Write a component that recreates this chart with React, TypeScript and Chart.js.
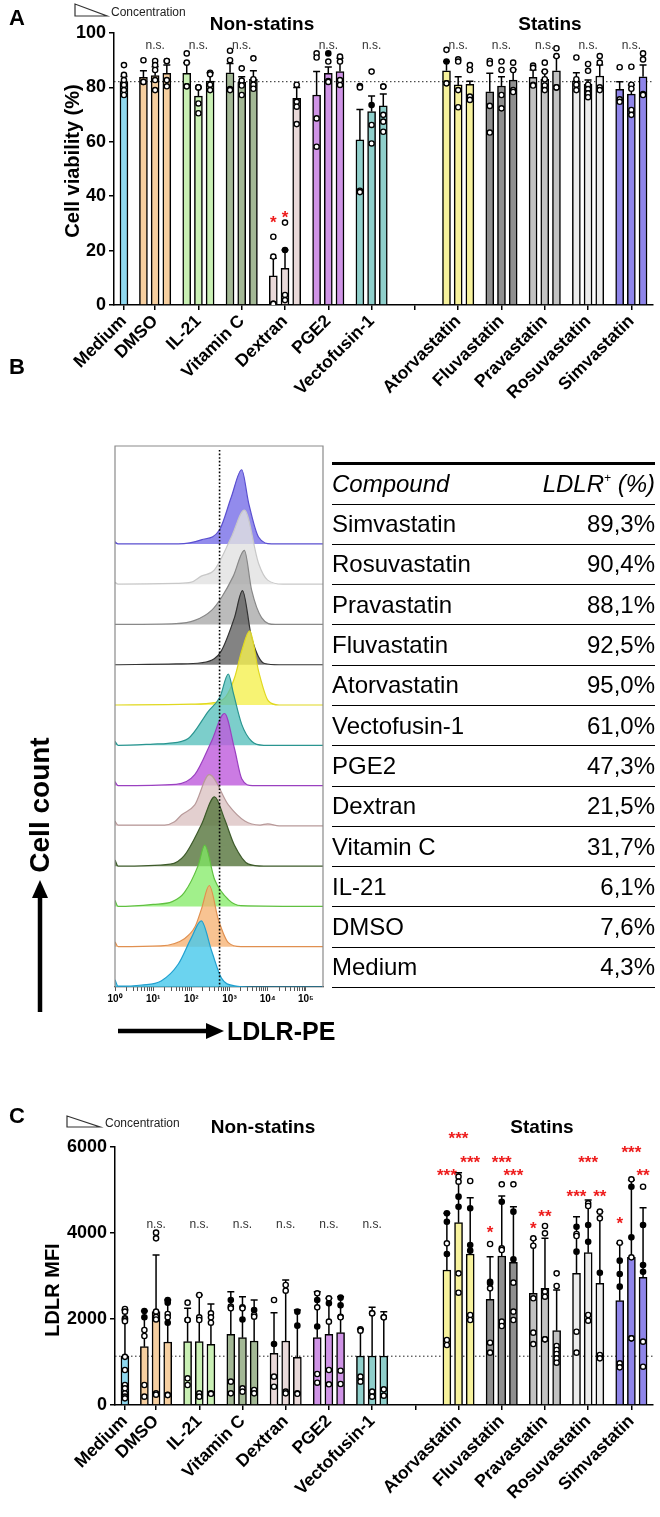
import React, { useEffect, useRef } from "react";
import { Chart, registerables } from "chart.js";

Chart.register(...registerables);
Chart.defaults.font.family = "'Liberation Sans', Arial, Helvetica, sans-serif";
Chart.defaults.color = "#000";

// ---------------- shared categories ----------------
const groupLabels = ["Medium", "DMSO", "IL-21", "Vitamin C", "Dextran", "PGE2", "Vectofusin-1", "", "Atorvastatin", "Fluvastatin", "Pravastatin", "Rosuvastatin", "Simvastatin"];
const groupSlots = [0.28, 1, 2, 3, 4, 5, 6, 7, 8, 9, 10, 11, 12];
const barsPerGroup = [1, 3, 3, 3, 3, 3, 3, 0, 3, 3, 3, 3, 3];
const groupColors = ["#8fd8ef", "#f6cfa0", "#c9f0b4", "#a3b895", "#e9d9d9", "#cf93e6", "#8fcfcb", "", "#f7f29c", "#8f8f8f", "#c2c2c2", "#ececec", "#8f85ea"];

// ---------------- Panel A: cell viability (%) ----------------
const viabilityMean = [
  82.1,
  83.7, 84.3, 85.2,
  85.2, 76.8, 82.3,
  85.4, 82.0, 83.0,
  10.7, 13.5, 76.0,
  77.2, 85.2, 85.8,
  60.7, 71.1, 73.2,
  86.1, 80.9, 81.1,
  78.4, 80.5, 82.7,
  83.7, 83.0, 86.1,
  82.4, 81.1, 84.2,
  79.3, 77.5, 83.9,
];
const viabilityErrTop = [
  84.0,
  86.1, 87.6, 88.2,
  89.1, 80.0, 85.4,
  88.8, 83.9, 86.1,
  17.2, 20.2, 80.0,
  85.8, 87.5, 90.7,
  71.9, 76.8, 77.6,
  89.5, 83.9, 82.3,
  85.2, 83.9, 86.6,
  86.4, 85.8, 91.3,
  85.4, 82.7, 88.2,
  82.1, 80.9, 88.2,
];
const viabilityOpen = [
  [88.2, 84.6, 82.7, 80.9, 79.0, 77.2],
  [90.0, 82.0, 82.0], [89.7, 88.2, 86.4, 82.7, 79.0], [89.7, 89.7, 82.7, 80.4],
  [92.5, 89.1, 80.4, 80.4], [80.0, 80.0, 74.1, 70.5], [85.4, 84.8, 81.0, 79.0],
  [93.5, 90.0, 79.4, 79.0], [87.0, 82.5, 80.7, 77.2], [90.7, 83.0, 81.0, 79.5],
  [25.1, 17.8, 0.4, 0.4], [30.3, 3.7, 1.8], [81.0, 74.7, 72.9, 66.5],
  [92.5, 91.0, 68.6, 58.2], [89.5, 82.3, 82.0], [91.3, 89.5, 82.7, 80.9],
  [80.5, 80.0, 42.0, 41.5], [85.8, 66.2, 59.4], [80.3, 80.3, 69.9, 67.4, 63.7],
  [93.8, 81.5, 81.5], [90.3, 89.5, 79.0, 72.7], [88.2, 86.4, 76.6, 75.4],
  [89.7, 88.8, 73.2, 63.4], [89.5, 86.4, 77.2, 72.3], [89.1, 86.4, 79.0, 78.3],
  [88.0, 87.2, 81.0, 80.7], [89.1, 85.8, 83.0, 80.7, 79.0], [94.4, 91.5, 80.0, 80.0],
  [91.0, 83.0, 81.0, 79.0], [88.6, 86.1, 81.0, 79.4, 77.8, 76.4], [91.5, 89.1, 80.0, 79.0],
  [87.4, 75.6, 74.7], [87.6, 81.0, 79.5, 71.7, 69.9], [92.5, 90.3, 77.6, 77.2],
];
const viabilityFilled = [
  [],
  [], [], [],
  [], [], [],
  [], [], [],
  [], [20.2], [],
  [], [92.5], [],
  [], [73.5], [],
  [89.5], [], [],
  [], [], [],
  [], [], [],
  [], [], [],
  [], [], [],
];
const viabilityNsGroups = [1, 2, 3, 5, 6, 8, 9, 10, 11, 12];
const viabilityStarBars = [10, 11];
const viabilityStarText = ["*", "*"];
const viabilityStarLevel = [31.5, 33.5];

// ---------------- Panel C: LDLR MFI ----------------
const mfiMean = [
  1135,
  1357, 2171, 1465,
  1473, 1473, 1411,
  1644, 1566, 1488,
  1202, 1488, 1109,
  1566, 1644, 1682,
  1140, 1140, 1140,
  3140, 4240, 3512,
  2458, 3465, 3318,
  2597, 2713, 1729,
  3062, 3543, 2830,
  2426, 3434, 2969,
];
const mfiErrTop = [
  2209,
  2186, 3488, 2442,
  2248, 2558, 2349,
  2636, 2519, 2442,
  2147, 2907, 2209,
  2636, 2481, 2519,
  1760, 2271, 2171,
  4460, 5402, 4822,
  3450, 4860, 4612,
  3853, 3876, 2674,
  4380, 4767, 4496,
  3760, 5233, 4589,
];
const mfiOpen = [
  [2233, 2171, 2016, 1990, 1950, 1120, 814, 465, 388, 271, 194, 155],
  [1744, 1605, 465, 194], [4008, 3876, 2171, 2050, 1990, 271, 240], [2116, 2039, 240, 230],
  [2380, 1977, 1977, 620, 465], [2558, 2039, 1977, 271, 194], [2132, 2039, 1914, 271, 260],
  [2287, 2248, 543, 271], [2271, 2248, 388, 310], [2093, 2054, 350, 271],
  [2442, 659, 426], [2791, 2658, 310, 271], [271, 260],
  [2597, 2271, 721, 519], [2481, 1938, 814, 481], [2054, 2039, 798, 488],
  [1760, 1729, 659, 543], [2132, 2132, 310, 194], [2039, 2039, 364, 217],
  [3760, 1512, 1395], [5310, 5194, 3062, 2612], [5209, 2093, 1977],
  [3744, 2713, 1449, 1217], [5132, 3644, 3605, 1938, 1837], [5132, 2845, 2171, 1977],
  [3876, 3705, 2481, 1682, 1418], [4163, 3992, 2636, 2519, 1527, 1527], [3062, 2767, 1372, 1279, 1186, 1085, 984],
  [3977, 3930, 1705, 1217], [4690, 4628, 2093, 1961], [4496, 4341, 1163, 1085],
  [3775, 969, 876], [5248, 3434, 1550, 1550], [5077, 1473, 891],
];
const mfiFilled = [
  [],
  [2186, 2039], [], [2442, 2380, 1914],
  [], [], [],
  [2442], [1990], [2209],
  [1418], [], [2171, 1845],
  [2442, 1827], [2364], [2496, 2318],
  [], [], [],
  [4457, 4263, 3512], [4845, 4612], [4574, 3721, 3589],
  [2868, 2830], [4728], [4496, 3388],
  [], [], [],
  [4147, 3566], [4186, 3798], [3077],
  [3357, 3047, 2752], [5077, 3899], [4186, 3256, 3100],
];
const mfiNsGroups = [1, 2, 3, 4, 5, 6];
const mfiStarBars = [19, 20, 21, 22, 23, 24, 25, 26, 28, 29, 30, 31, 32, 33];
const mfiStarText = ["***", "***", "***", "*", "***", "***", "*", "**", "***", "***", "**", "*", "***", "**"];
const mfiStarLevel = [5420, 6280, 5720, 4090, 5720, 5420, 4190, 4460, 4930, 5720, 4930, 4300, 5950, 5420];

// ---------------- Panel B: LDLR-PE histograms (log10 units, row heights) ----------------
const histMedium = [[0, 0.18], [0.08, 0.02], [0.7, 0.05], [1.21, 0.15], [1.66, 0.57], [2.0, 1.22], [2.26, 1.64], [2.53, 0.9], [2.79, 0.22], [3.13, 0.03], [3.6, 0], [5.45, 0]];
const histDMSO = [[0, 0.12], [0.08, 0], [1.2, 0.02], [1.82, 0.2], [2.1, 0.5], [2.26, 0.92], [2.47, 1.52], [2.71, 0.67], [2.97, 0.1], [3.3, 0], [5.45, 0]];
const histIL21 = [[0, 0.15], [0.08, 0], [1.0, 0.05], [1.5, 0.12], [1.82, 0.35], [2.18, 1.02], [2.35, 1.52], [2.61, 0.67], [2.97, 0.17], [3.3, 0.02], [5.45, 0]];
const histVitaminC = [[0, 0.15], [0.08, 0], [1.45, 0.05], [1.82, 0.27], [2.26, 1.02], [2.61, 1.72], [2.87, 1.17], [3.13, 0.52], [3.5, 0.05], [3.9, 0], [5.45, 0]];
const histDextran = [[0, 0.12], [0.08, 0.02], [1.3, 0.02], [1.56, 0.1], [1.74, 0.27], [2.09, 0.52], [2.47, 1.27], [2.97, 0.52], [3.4, 0.12], [3.8, 0.02], [4.0, 0.05], [4.3, 0], [5.45, 0]];
const histPGE2 = [[0, 0.1], [0.08, 0], [1.6, 0.03], [2.09, 0.27], [2.53, 1.1], [2.87, 1.79], [3.13, 0.92], [3.32, 0.17], [3.6, 0], [5.45, 0]];
const histVectofusin = [[0, 0.1], [0.08, 0], [1.0, 0.03], [1.39, 0.05], [1.92, 0.17], [2.45, 0.85], [2.75, 1.2], [2.97, 1.77], [3.1, 1.3], [3.32, 0.52], [3.58, 0.1], [3.9, 0], [5.45, 0]];
const histAtorvastatin = [[0, 0], [2.0, 0.02], [2.6, 0.06], [2.9, 0.2], [3.13, 0.67], [3.32, 1.34], [3.53, 1.84], [3.76, 0.85], [4.02, 0.1], [4.3, 0], [5.45, 0]];
const histFluvastatin = [[0, 0], [1.6, 0.02], [2.26, 0.05], [2.6, 0.15], [2.79, 0.35], [3.13, 1.17], [3.34, 1.84], [3.58, 0.67], [3.92, 0.03], [4.3, 0], [5.45, 0]];
const histPravastatin = [[0, 0], [1.6, 0.02], [2.09, 0.1], [2.53, 0.35], [2.79, 0.67], [3.1, 1.2], [3.39, 1.84], [3.58, 0.85], [3.84, 0.17], [4.2, 0], [5.45, 0]];
const histRosuvastatin = [[0, 0.05], [0.08, 0], [1.6, 0.02], [2.0, 0.05], [2.26, 0.2], [2.6, 0.35], [3.05, 1.17], [3.39, 1.84], [3.76, 0.52], [4.0, 0.1], [4.4, 0], [5.45, 0]];
const histSimvastatin = [[0, 0.05], [0.08, 0], [1.66, 0], [2.26, 0.1], [2.74, 0.35], [3.05, 1.17], [3.32, 1.84], [3.5, 1.02], [3.76, 0.17], [4.1, 0], [5.45, 0]];
const histCurves = [histMedium, histDMSO, histIL21, histVitaminC, histDextran, histPGE2, histVectofusin, histAtorvastatin, histFluvastatin, histPravastatin, histRosuvastatin, histSimvastatin];
const histFill = ["rgba(70,200,235,0.8)", "rgba(245,175,110,0.75)", "rgba(130,235,100,0.75)", "rgba(95,125,70,0.85)", "rgba(220,195,195,0.8)", "rgba(190,90,220,0.8)", "rgba(80,190,185,0.75)", "rgba(245,240,80,0.8)", "rgba(100,100,100,0.8)", "rgba(170,170,170,0.8)", "rgba(225,225,225,0.8)", "rgba(110,100,230,0.75)"];
const histLine = ["#20a0d0", "#e09050", "#60c040", "#3d5a2a", "#b89a9a", "#9a40c0", "#2a9590", "#e0d820", "#333333", "#888888", "#c8c8c8", "#5a4fd0"];
const histDecades = [0, 1, 2, 3, 4, 5];
const histMinorSteps = [2, 3, 4, 5, 6, 7, 8, 9];
const histGate = 2.74;
const tableCompounds = ["Medium", "DMSO", "IL-21", "Vitamin C", "Dextran", "PGE2", "Vectofusin-1", "Atorvastatin", "Fluvastatin", "Pravastatin", "Rosuvastatin", "Simvastatin"];
const tableLdlrPositive = ["4,3%", "7,6%", "6,1%", "31,7%", "21,5%", "47,3%", "61,0%", "95,0%", "92,5%", "88,1%", "90,4%", "89,3%"];

const BAR_STEP = 0.27;
const FONT = "'Liberation Sans', Arial, Helvetica, sans-serif";

function barPositions() {
  const xs: number[] = [];
  const colors: string[] = [];
  groupSlots.forEach((slot, g) => {
    const n = barsPerGroup[g];
    for (let k = 0; k < n; k++) {
      xs.push(n === 1 ? slot : slot + (k - (n - 1) / 2) * BAR_STEP);
      colors.push(groupColors[g]);
    }
  });
  return { xs, colors };
}

function makeBarChart(canvas: HTMLCanvasElement, p: any) {
  const { xs, colors } = barPositions();
  const openPts: any[] = [];
  const filledPts: any[] = [];
  p.open.forEach((arr: number[], i: number) => arr.forEach((v) => openPts.push({ x: xs[i], y: v })));
  p.filled.forEach((arr: number[], i: number) => arr.forEach((v) => filledPts.push({ x: xs[i], y: v })));

  const errPlugin = {
    id: "errbars",
    afterDatasetDraw(chart: any, args: any) {
      if (args.index !== 0) return;
      const { ctx } = chart;
      const y = chart.scales.y;
      ctx.save();
      ctx.strokeStyle = "#000";
      ctx.lineWidth = 1.5;
      args.meta.data.forEach((el: any, i: number) => {
        const top = y.getPixelForValue(p.errTops[i]);
        ctx.beginPath();
        ctx.moveTo(el.x, el.y);
        ctx.lineTo(el.x, top);
        ctx.moveTo(el.x - 3.5, top);
        ctx.lineTo(el.x + 3.5, top);
        ctx.stroke();
      });
      ctx.restore();
    },
  };

  const annotPlugin = {
    id: "annot",
    beforeDatasetsDraw(chart: any) {
      const { ctx, chartArea, scales } = chart;
      const ry = scales.y.getPixelForValue(p.refValue);
      ctx.save();
      ctx.setLineDash([1.5, 2.5]);
      ctx.strokeStyle = "#222";
      ctx.lineWidth = 1;
      ctx.beginPath();
      ctx.moveTo(chartArea.left, ry);
      ctx.lineTo(chartArea.right, ry);
      ctx.stroke();
      ctx.restore();
    },
    afterDraw(chart: any) {
      const { ctx, scales } = chart;
      const x = scales.x;
      const y = scales.y;
      const h = p.header;
      ctx.save();
      ctx.fillStyle = "#000";
      ctx.textBaseline = "alphabetic";
      ctx.font = `bold 22px ${FONT}`;
      ctx.textAlign = "left";
      ctx.fillText(h.letter, h.letterPos[0], h.letterPos[1]);
      ctx.strokeStyle = "#333";
      ctx.lineWidth = 1.2;
      ctx.beginPath();
      ctx.moveTo(h.tri[0][0], h.tri[0][1]);
      ctx.lineTo(h.tri[1][0], h.tri[1][1]);
      ctx.lineTo(h.tri[2][0], h.tri[2][1]);
      ctx.closePath();
      ctx.stroke();
      ctx.font = `12px ${FONT}`;
      ctx.fillStyle = "#222";
      ctx.fillText("Concentration", h.concPos[0], h.concPos[1]);
      ctx.fillStyle = "#000";
      ctx.font = `bold 19px ${FONT}`;
      ctx.textAlign = "center";
      ctx.fillText("Non-statins", h.nonPos[0], h.nonPos[1]);
      ctx.fillText("Statins", h.statPos[0], h.statPos[1]);
      ctx.save();
      ctx.translate(h.yTitlePos[0], h.yTitlePos[1]);
      ctx.rotate(-Math.PI / 2);
      ctx.font = `bold ${p.yTitleSize}px ${FONT}`;
      ctx.textAlign = "center";
      ctx.textBaseline = "middle";
      ctx.fillText(p.yTitle, 0, 0);
      ctx.restore();
      ctx.font = `12px ${FONT}`;
      ctx.fillStyle = "#333";
      ctx.textAlign = "center";
      ctx.textBaseline = "middle";
      const nsY = y.getPixelForValue(p.nsLevel);
      p.nsGroups.forEach((g: number) => ctx.fillText("n.s.", x.getPixelForValue(groupSlots[g]), nsY));
      ctx.font = `bold 17px ${FONT}`;
      ctx.fillStyle = "#ee1c1c";
      ctx.textBaseline = "middle";
      p.starBars.forEach((b: number, i: number) => {
        ctx.fillText(p.starText[i], x.getPixelForValue(xs[b]), y.getPixelForValue(p.starLevel[i]) + 4);
      });
      ctx.restore();
    },
  };

  return new Chart(canvas, {
    type: "bar",
    data: {
      datasets: [
        {
          type: "bar",
          data: p.means.map((v: number, i: number) => ({ x: xs[i], y: v })),
          backgroundColor: colors,
          borderColor: "#000",
          borderWidth: 1.5,
          barThickness: 8,
          order: 2,
        } as any,
        {
          type: "scatter",
          data: openPts,
          pointRadius: 2.6,
          pointBackgroundColor: "#fff",
          pointBorderColor: "#000",
          pointBorderWidth: 1.4,
          order: 1,
        } as any,
        {
          type: "scatter",
          data: filledPts,
          pointRadius: 2.6,
          pointBackgroundColor: "#000",
          pointBorderColor: "#000",
          pointBorderWidth: 1.4,
          order: 0,
        } as any,
      ],
    },
    options: {
      responsive: false,
      animation: false,
      events: [],
      layout: { padding: { top: p.padTop, right: 7, left: 0, bottom: 0 } },
      plugins: { legend: { display: false }, tooltip: { enabled: false } },
      scales: {
        x: {
          type: "linear",
          min: 0.05,
          max: 12.5,
          offset: false,
          afterBuildTicks: (s: any) => {
            s.ticks = groupSlots.map((v) => ({ value: v }));
          },
          afterFit: (s: any) => {
            s.height = p.xAxisH;
          },
          ticks: {
            autoSkip: false,
            minRotation: 45,
            maxRotation: 45,
            padding: 1,
            color: "#000",
            font: { size: 17.5, weight: "bold" },
            callback: (_v: any, i: number) => groupLabels[i],
          },
          grid: { offset: false, drawOnChartArea: false, drawTicks: true, tickLength: 5, color: "#000", lineWidth: 1.5 },
          border: { display: true, color: "#000", width: 1.5 },
        },
        y: {
          type: "linear",
          min: 0,
          max: p.yMax,
          afterFit: (s: any) => {
            s.width = p.yAxisW;
          },
          ticks: { stepSize: p.yStep, padding: 3, color: "#000", font: { size: 18, weight: "bold" }, callback: (v: any) => String(v) },
          grid: { drawOnChartArea: false, drawTicks: true, tickLength: 5, color: "#000", lineWidth: 1.5 },
          border: { display: true, color: "#000", width: 1.5 },
        },
      },
    } as any,
    plugins: [errPlugin, annotPlugin],
  });
}

function makeHistChart(canvas: HTMLCanvasElement) {
  const sup = ["⁰", "¹", "²", "³", "⁴", "⁵"];
  const tickValues: number[] = [];
  histDecades.forEach((d) => {
    tickValues.push(d);
    if (d < 5) histMinorSteps.forEach((k) => tickValues.push(d + Math.log10(k)));
  });
  const framePlugin = {
    id: "frame",
    afterDraw(chart: any) {
      const { ctx, chartArea, scales } = chart;
      ctx.save();
      ctx.strokeStyle = "#8a8a8a";
      ctx.lineWidth = 1.2;
      ctx.beginPath();
      ctx.moveTo(chartArea.left, chartArea.bottom);
      ctx.lineTo(chartArea.left, chartArea.top);
      ctx.lineTo(chartArea.right, chartArea.top);
      ctx.lineTo(chartArea.right, chartArea.bottom);
      ctx.stroke();
      const gx = scales.x.getPixelForValue(histGate);
      ctx.strokeStyle = "#000";
      ctx.lineWidth = 1.6;
      ctx.setLineDash([1.6, 2]);
      ctx.beginPath();
      ctx.moveTo(gx, chartArea.top + 4);
      ctx.lineTo(gx, chartArea.bottom);
      ctx.stroke();
      ctx.restore();
    },
  };
  return new Chart(canvas, {
    type: "line",
    data: {
      datasets: histCurves.map((pts, i) => ({
        data: pts.map(([u, h]) => ({ x: u, y: i + h })),
        fill: { value: i },
        backgroundColor: histFill[i],
        borderColor: histLine[i],
        borderWidth: 1.2,
        pointRadius: 0,
        cubicInterpolationMode: "monotone",
      })) as any,
    },
    options: {
      responsive: false,
      animation: false,
      events: [],
      layout: { padding: { left: 115, right: 12, top: 86, bottom: 0 } },
      plugins: { legend: { display: false }, tooltip: { enabled: false } },
      scales: {
        x: {
          type: "linear",
          min: 0,
          max: 5.45,
          afterBuildTicks: (s: any) => {
            s.ticks = tickValues.map((v) => ({ value: v }));
          },
          afterFit: (s: any) => {
            s.height = 33;
          },
          ticks: {
            autoSkip: false,
            minRotation: 0,
            maxRotation: 0,
            padding: 2,
            color: "#000",
            font: { size: 10, weight: "bold" },
            callback: (v: any) => (Number.isInteger(v) ? "10" + sup[v] : ""),
          },
          grid: { drawOnChartArea: false, drawTicks: true, tickLength: 4, color: "#555", offset: false },
          border: { display: true, color: "#333", width: 1.2 },
        },
        y: { type: "linear", display: false, min: 0, max: 13.43 },
      },
    } as any,
    plugins: [framePlugin],
  });
}

export default function App() {
  const refA = useRef<HTMLCanvasElement>(null);
  const refB = useRef<HTMLCanvasElement>(null);
  const refC = useRef<HTMLCanvasElement>(null);

  useEffect(() => {
    const a = makeBarChart(refA.current!, {
      means: viabilityMean,
      errTops: viabilityErrTop,
      open: viabilityOpen,
      filled: viabilityFilled,
      yMax: 100,
      yStep: 20,
      yTitle: "Cell viability (%)",
      yTitleSize: 20,
      padTop: 33,
      yAxisW: 114,
      xAxisH: 105,
      nsGroups: viabilityNsGroups,
      nsLevel: 95.5,
      starBars: viabilityStarBars,
      starText: viabilityStarText,
      starLevel: viabilityStarLevel,
      refValue: viabilityMean[0],
      header: {
        letter: "A",
        letterPos: [9, 25],
        tri: [[75, 4], [75, 16], [107, 16]],
        concPos: [111, 16],
        nonPos: [262, 30],
        statPos: [550, 30],
        yTitlePos: [73, 161],
      },
    });
    const b = makeHistChart(refB.current!);
    const c = makeBarChart(refC.current!, {
      means: mfiMean,
      errTops: mfiErrTop,
      open: mfiOpen,
      filled: mfiFilled,
      yMax: 6000,
      yStep: 2000,
      yTitle: "LDLR MFI",
      yTitleSize: 20,
      padTop: 67,
      yAxisW: 115,
      xAxisH: 112,
      nsGroups: mfiNsGroups,
      nsLevel: 4190,
      starBars: mfiStarBars,
      starText: mfiStarText,
      starLevel: mfiStarLevel,
      refValue: mfiMean[0],
      header: {
        letter: "C",
        letterPos: [9, 43],
        tri: [[67, 36], [67, 47], [100, 47]],
        concPos: [105, 47],
        nonPos: [263, 53],
        statPos: [542, 53],
        yTitlePos: [53, 210],
      },
    });
    return () => {
      a.destroy();
      b.destroy();
      c.destroy();
    };
  }, []);

  const tableRows = tableCompounds.map((name, i) => ({ name, val: tableLdlrPositive[i] })).reverse();

  return (
    <div style={{ position: "absolute", left: 0, top: 0, width: 660, height: 1517, background: "#fff", overflow: "hidden", fontFamily: FONT, color: "#000" }}>
      <canvas ref={refA} width={660} height={410} style={{ position: "absolute", left: 0, top: 0 }} />
      <canvas ref={refB} width={335} height={660} style={{ position: "absolute", left: 0, top: 360 }} />
      <canvas ref={refC} width={660} height={437} style={{ position: "absolute", left: 0, top: 1080 }} />

      <div style={{ position: "absolute", left: 9, top: 356, fontSize: 22, fontWeight: "bold", lineHeight: "22px" }}>B</div>

      <div
        style={{
          position: "absolute",
          left: 40 - 90,
          top: 805 - 17,
          width: 180,
          height: 34,
          lineHeight: "34px",
          textAlign: "center",
          fontSize: 28,
          fontWeight: "bold",
          transform: "rotate(-90deg)",
        }}
      >
        Cell count
      </div>
      <div style={{ position: "absolute", left: 227, top: 1016, fontSize: 25, fontWeight: "bold", lineHeight: "30px" }}>LDLR-PE</div>
      <svg width={660} height={1517} style={{ position: "absolute", left: 0, top: 0, pointerEvents: "none" }}>
        <line x1={40} y1={1012} x2={40} y2={896} stroke="#000" strokeWidth={4.5} />
        <polygon points="40,880 32,898 48,898" fill="#000" />
        <line x1={118} y1={1031} x2={208} y2={1031} stroke="#000" strokeWidth={4.5} />
        <polygon points="224,1031 206,1023 206,1039" fill="#000" />
      </svg>

      <div style={{ position: "absolute", left: 332, top: 461.5, width: 323, borderTop: "3px solid #000", fontSize: 24 }}>
        <div
          style={{
            height: 40,
            boxSizing: "border-box",
            borderBottom: "1.5px solid #000",
            display: "flex",
            justifyContent: "space-between",
            alignItems: "center",
            fontStyle: "italic",
          }}
        >
          <span>Compound</span>
          <span>
            LDLR<sup style={{ fontSize: 12, verticalAlign: "10px" }}>+</sup> (%)
          </span>
        </div>
        {tableRows.map((r) => (
          <div
            key={r.name}
            style={{
              height: 40.3,
              boxSizing: "border-box",
              borderBottom: "1.5px solid #000",
              display: "flex",
              justifyContent: "space-between",
              alignItems: "center",
            }}
          >
            <span>{r.name}</span>
            <span>{r.val}</span>
          </div>
        ))}
      </div>
    </div>
  );
}
